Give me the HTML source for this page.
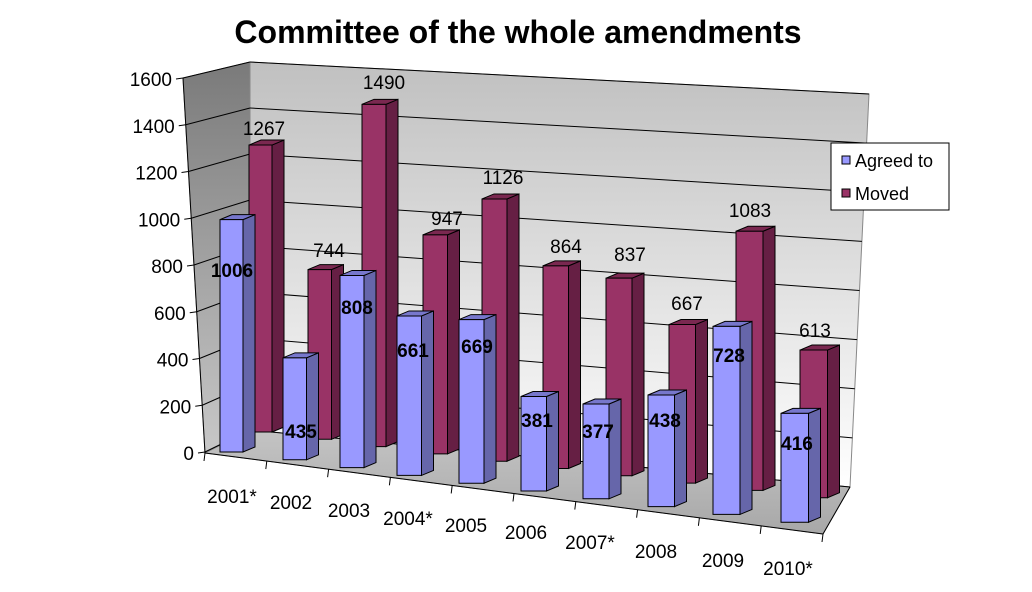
<!DOCTYPE html>
<html><head><meta charset="utf-8">
<style>
html,body{margin:0;padding:0;background:#fff;}
svg{display:block;font-family:"Liberation Sans",Arial,sans-serif;}
</style></head>
<body>
<svg id="c" width="1032" height="592" viewBox="0 0 1032 592" xmlns="http://www.w3.org/2000/svg">
<defs>
<linearGradient id="lw" x1="0" y1="0" x2="0" y2="1"><stop offset="0" stop-color="#7a7a7a"/><stop offset="1" stop-color="#c8c8c8"/></linearGradient>
<linearGradient id="bw" x1="0" y1="0" x2="0" y2="1"><stop offset="0" stop-color="#c0c0c0"/><stop offset="1" stop-color="#ffffff"/></linearGradient>
<linearGradient id="fl" x1="0" y1="0" x2="0" y2="1"><stop offset="0" stop-color="#c4c4c4"/><stop offset="1" stop-color="#a8a8a8"/></linearGradient>
</defs>
<text x="518" y="43" text-anchor="middle" font-size="32" font-weight="bold">Committee of the whole amendments</text>
</svg>
<script>
var s=document.getElementById('c'),ns='http://www.w3.org/2000/svg';
function el(t,a,txt){var e=document.createElementNS(ns,t);for(var k in a)e.setAttribute(k,a[k]);if(txt!==undefined)e.textContent=txt;s.appendChild(e);return e;}
function poly(p,f,st){return el('polygon',{points:p.map(function(q){return q.join(',')}).join(' '),fill:f,stroke:st||'none','stroke-width':1});}
poly([[183,78],[250,62],[250,430],[205,453]],'url(#lw)','#888');
poly([[250,62],[869,94],[850,487],[250,430]],'url(#bw)','#888');
poly([[205,453],[250,430],[850,487],[823,534]],'url(#fl)','#888');
for(var v=0;v<=1600;v+=200){
 var yf=452-v*374/1600, xf=205-v*22/1600;
 var yl=430-v*368/1600, yr=487-v*393/1600, xr=850+v*19/1600;
 el('line',{x1:xf,y1:yf,x2:250,y2:yl,stroke:'#000','stroke-width':1});
 el('line',{x1:250,y1:yl,x2:xr,y2:yr,stroke:'#000','stroke-width':1});
 el('line',{x1:xf-7,y1:yf+1,x2:xf,y2:yf,stroke:'#000'});
 el('text',{x:xf-11,y:yf+8,'text-anchor':'end','font-size':19},String(v));
}
el('line',{x1:183,y1:78,x2:205,y2:453,stroke:'#000'});
el('line',{x1:205,y1:453,x2:823,y2:534,stroke:'#000'});
el('line',{x1:823,y1:534,x2:850,y2:487,stroke:'#000'});
for(var i=0;i<=10;i++){var x=205+i*61.8,y=453+i*8.1;el('line',{x1:x,y1:y,x2:x-1,y2:y+8,stroke:'#000'});}
var ag=[1006,435,808,661,669,381,377,438,728,416],mv=[1267,744,1490,947,1126,864,837,667,1083,613];
var mvx=[249,308,362,423,482,543,606,669,736,800],agx=[220,283,340,397,459,521,583,648,713,781];
function bar(x,yb,w,h,cf,cs,ct){
 var dx=12,dy=-5,yt=yb-h;
 poly([[x+w,yt],[x+w+dx,yt+dy],[x+w+dx,yb+dy],[x+w,yb]],cs,'#000');
 poly([[x,yt],[x+dx,yt+dy],[x+w+dx,yt+dy],[x+w,yt]],ct,'#000');
 poly([[x,yt],[x+w,yt],[x+w,yb],[x,yb]],cf,'#000');
}
for(i=0;i<10;i++){
 var w=23+0.5*i;
 bar(mvx[i],432+7.3*i,w,mv[i]*(0.2265+0.0016*i),'#993366','#661f44','#7a2850');
}
for(i=0;i<10;i++){
 var w=23+0.5*i;
 bar(agx[i],452+7.8*i,w,ag[i]*(0.231+0.0034*i),'#9999ff','#6666aa','#7777cc');
}
var ml=[[264,128],[329,250],[384,82],[447,218],[503,177],[566,246],[630,254],[687,303],[750,210],[815,330]];
var al=[[232,270],[301,431],[357,307],[413,350],[477,346],[537,420],[598,431],[665,420],[729,355],[797,443]];
for(i=0;i<10;i++){
 el('text',{x:ml[i][0],y:ml[i][1]+7,'text-anchor':'middle','font-size':19},String(mv[i]));
 el('text',{x:al[i][0],y:al[i][1]+7,'text-anchor':'middle','font-size':19,'font-weight':'bold'},String(ag[i]));
}
var cl=['2001*','2002','2003','2004*','2005','2006','2007*','2008','2009','2010*'];
var cp=[[232,496],[291,502],[349,510],[408,518],[466,525],[526,532],[590,542],[656,551],[723,560],[788,568]];
for(i=0;i<10;i++)el('text',{x:cp[i][0],y:cp[i][1]+7,'text-anchor':'middle','font-size':19},cl[i]);
el('rect',{x:831,y:143,width:118,height:67,fill:'#fff',stroke:'#000'});
el('rect',{x:842,y:156,width:8,height:8,fill:'#9999ff',stroke:'#000'});
el('text',{x:855,y:167,'font-size':18},'Agreed to');
el('rect',{x:842,y:189,width:8,height:8,fill:'#993366',stroke:'#000'});
el('text',{x:855,y:200,'font-size':18},'Moved');
</script>
</body></html>
